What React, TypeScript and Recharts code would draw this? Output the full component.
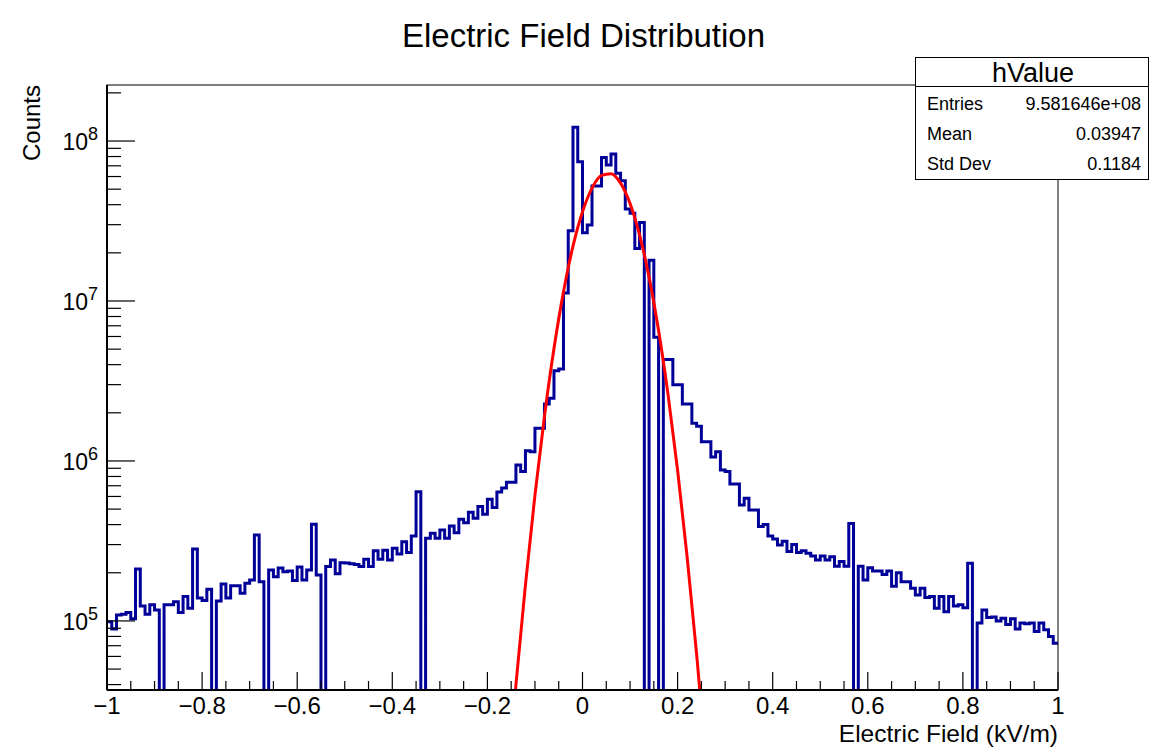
import React from 'react';
import { LineChart, Line, XAxis, YAxis } from 'recharts';

// histogram "hValue": 200 bins of 0.01 from -1 to 1 (counts, 0 = empty bin)
const X_MIN = -1;
const X_MAX = 1;
const BIN_WIDTH = 0.01;
const binValues: number[] = [
  99000, 89000, 109000, 110000, 113000, 103000, 211000, 124000, 110000, 126000,
  117000, 0, 126000, 126000, 132000, 113000, 142000, 120000, 282000, 139000,
  134000, 158000, 0, 133000, 170000, 139000, 166000, 166000, 149000, 172000,
  180000, 345000, 176000, 0, 208000, 189000, 214000, 203000, 205000, 179000,
  217000, 180000, 208000, 402000, 194000, 0, 219000, 240000, 197000, 231000,
  230000, 228000, 225000, 219000, 243000, 219000, 275000, 243000, 277000, 240000,
  285000, 262000, 313000, 268000, 340000, 643000, 0, 329000, 353000, 329000,
  370000, 329000, 392000, 356000, 432000, 411000, 478000, 438000, 519000, 465000,
  576000, 511000, 640000, 677000, 736000, 736000, 944000, 858000, 1160000, 1140000,
  1600000, 1600000, 2270000, 2470000, 3660000, 3760000, 11200000, 27500000, 122000000, 74300000,
  26700000, 29900000, 52300000, 52300000, 79000000, 70800000, 82900000, 62900000, 56500000, 37600000,
  35300000, 21300000, 31000000, 0, 18000000, 5930000, 0, 4310000, 4310000, 2990000,
  2990000, 2270000, 2270000, 1720000, 1650000, 1320000, 1320000, 1060000, 1140000, 879000,
  860000, 718000, 718000, 531000, 585000, 494000, 494000, 389000, 400000, 340000,
  325000, 298000, 315000, 272000, 300000, 268000, 275000, 265000, 255000, 240000,
  255000, 240000, 252000, 220000, 235000, 220000, 407000, 0, 220000, 180000,
  215000, 205000, 205000, 195000, 205000, 165000, 200000, 176000, 176000, 160000,
  145000, 160000, 140000, 142000, 120000, 142000, 114000, 142000, 124000, 126000,
  121000, 229000, 0, 97000, 117000, 105000, 106000, 100000, 104000, 95000,
  103000, 89000, 97000, 96000, 97000, 86000, 97000, 88000, 80000, 72500,
];

// gaussian fit curve
const fitX = [-0.16, -0.14, -0.12, -0.1, -0.08, -0.06, -0.04, -0.02, 0, 0.02, 0.04,
  0.06, 0.08, 0.1, 0.12, 0.14, 0.16, 0.18, 0.2, 0.22, 0.24, 0.26];
const fitY = [7900, 39800, 168000, 612000, 1900000, 5040000, 11400000, 22000000, 36100000,
  50800000, 61000000, 62500000, 54600000, 40700000, 25900000, 14100000, 6530000,
  2590000, 875000, 252000, 62000, 13000];

// axes
const Y_MIN = 3.7e4;
const Y_MAX = 2.24e8;
const xMajorTicks = [-1, -0.8, -0.6, -0.4, -0.2, 0, 0.2, 0.4, 0.6, 0.8, 1];
const xMajorLabels = ['\u22121', '\u22120.8', '\u22120.6', '\u22120.4', '\u22120.2', '0', '0.2', '0.4', '0.6', '0.8', '1'];
const xMinorTicks = [-0.95, -0.9, -0.85, -0.75, -0.7, -0.65, -0.55, -0.5, -0.45, -0.35, -0.3, -0.25,
  -0.15, -0.1, -0.05, 0.05, 0.1, 0.15, 0.25, 0.3, 0.35, 0.45, 0.5, 0.55, 0.65, 0.7, 0.75, 0.85, 0.9, 0.95];
const yMajorTicks = [1e5, 1e6, 1e7, 1e8];
const yMajorExp = ['5', '6', '7', '8'];
const yMinorTicks = [4e4, 5e4, 6e4, 7e4, 8e4, 9e4, 2e5, 3e5, 4e5, 5e5, 6e5, 7e5, 8e5, 9e5,
  2e6, 3e6, 4e6, 5e6, 6e6, 7e6, 8e6, 9e6, 2e7, 3e7, 4e7, 5e7, 6e7, 7e7, 8e7, 9e7, 2e8];

// stats box
const statLabels = ['Entries', 'Mean', 'Std Dev'];
const statValues = ['9.581646e+08', '0.03947', '0.1184'];

const FONT = '"Liberation Sans", Arial, Helvetica, sans-serif';
const FLOOR = 1; // empty bins drop below the frame

const histData = [
  ...binValues.map((v, i) => ({ x: X_MIN + i * BIN_WIDTH, v: v > 0 ? v : FLOOR })),
  { x: X_MAX, v: binValues[binValues.length - 1] || FLOOR },
];
const fitData = fitX.map((x, i) => ({ x, v: fitY[i] }));

const W = 1149;
const H = 748;
const PLOT = { left: 107, right: 1058, top: 85, bottom: 690 };

function XTick(props: any) {
  const { x, y, payload } = props;
  const i = xMajorTicks.findIndex((t) => Math.abs(t - payload.value) < 1e-9);
  const major = i >= 0;
  return (
    <g>
      <line x1={x} y1={y} x2={x} y2={y - (major ? 18 : 9)} stroke="#000" strokeWidth={1.2} />
      {major && (
        <text x={x} y={y + 24} textAnchor="middle" fontSize={24} fontFamily={FONT} fill="#000">
          {xMajorLabels[i]}
        </text>
      )}
    </g>
  );
}

function YTick(props: any) {
  const { x, y, payload } = props;
  const i = yMajorTicks.findIndex((t) => Math.abs(t - payload.value) / t < 1e-6);
  const major = i >= 0;
  return (
    <g>
      <line x1={x} y1={y} x2={x + (major ? 28 : 14)} y2={y} stroke="#000" strokeWidth={1.2} />
      {major && (
        <text x={x - 9} y={y + 9} textAnchor="end" fontSize={23} fontFamily={FONT} fill="#000">
          <tspan>10</tspan>
          <tspan dy={-10} fontSize={18}>{yMajorExp[i]}</tspan>
        </text>
      )}
    </g>
  );
}

export default function App() {
  return (
    <div style={{ position: 'relative', width: W, height: H, background: '#fff', fontFamily: FONT }}>
      <style>{'body{margin:0}'}</style>
      <LineChart
        width={W}
        height={H}
        margin={{ top: PLOT.top, right: W - PLOT.right, bottom: H - PLOT.bottom - 40, left: PLOT.left - 60 }}
      >
        <XAxis
          dataKey="x"
          type="number"
          domain={[X_MIN, X_MAX]}
          ticks={[...xMajorTicks, ...xMinorTicks].sort((a, b) => a - b)}
          interval={0}
          height={40}
          tickSize={0}
          tickMargin={0}
          tickLine={false}
          axisLine={{ stroke: '#000', strokeWidth: 2 }}
          tick={(p: any) => <XTick {...p} />}
        />
        <YAxis
          type="number"
          scale="log"
          domain={[Y_MIN, Y_MAX]}
          allowDataOverflow
          ticks={[...yMinorTicks, ...yMajorTicks].sort((a, b) => a - b)}
          interval={0}
          width={60}
          tickSize={0}
          tickMargin={0}
          tickLine={false}
          axisLine={{ stroke: '#000', strokeWidth: 2 }}
          tick={(p: any) => <YTick {...p} />}
        />
        <Line
          data={histData}
          dataKey="v"
          type="stepAfter"
          stroke="#000099"
          strokeWidth={3}
          dot={false}
          isAnimationActive={false}
        />
        <Line
          data={fitData}
          dataKey="v"
          type="monotone"
          stroke="#ff0000"
          strokeWidth={3}
          dot={false}
          isAnimationActive={false}
        />
      </LineChart>
      <svg
        width={W}
        height={H}
        style={{ position: 'absolute', left: 0, top: 0, pointerEvents: 'none' }}
        fontFamily={FONT}
      >
        <rect
          x={PLOT.left}
          y={PLOT.top}
          width={PLOT.right - PLOT.left}
          height={PLOT.bottom - PLOT.top}
          fill="none"
          stroke="#000"
          strokeWidth={1}
        />
        <text x={583.5} y={47} textAnchor="middle" fontSize={33} fill="#000">
          Electric Field Distribution
        </text>
        <text x={40} y={85} textAnchor="end" fontSize={24} fill="#000" transform="rotate(-90 40 85)">
          Counts
        </text>
        <text x={PLOT.right} y={742} textAnchor="end" fontSize={24.5} fill="#000">
          Electric Field (kV/m)
        </text>
        <g>
          <rect x={915.5} y={57.5} width={233} height={122} fill="#fff" stroke="#000" strokeWidth={1} />
          <line x1={915.5} y1={86.5} x2={1148.5} y2={86.5} stroke="#000" strokeWidth={1} />
          <text x={1033} y={82} textAnchor="middle" fontSize={27} fill="#000">hValue</text>
          {statLabels.map((s, i) => (
            <g key={s}>
              <text x={927} y={109.5 + i * 30} fontSize={18} fill="#000">{s}</text>
              <text x={1141} y={109.5 + i * 30} textAnchor="end" fontSize={18} fill="#000">{statValues[i]}</text>
            </g>
          ))}
        </g>
      </svg>
    </div>
  );
}
